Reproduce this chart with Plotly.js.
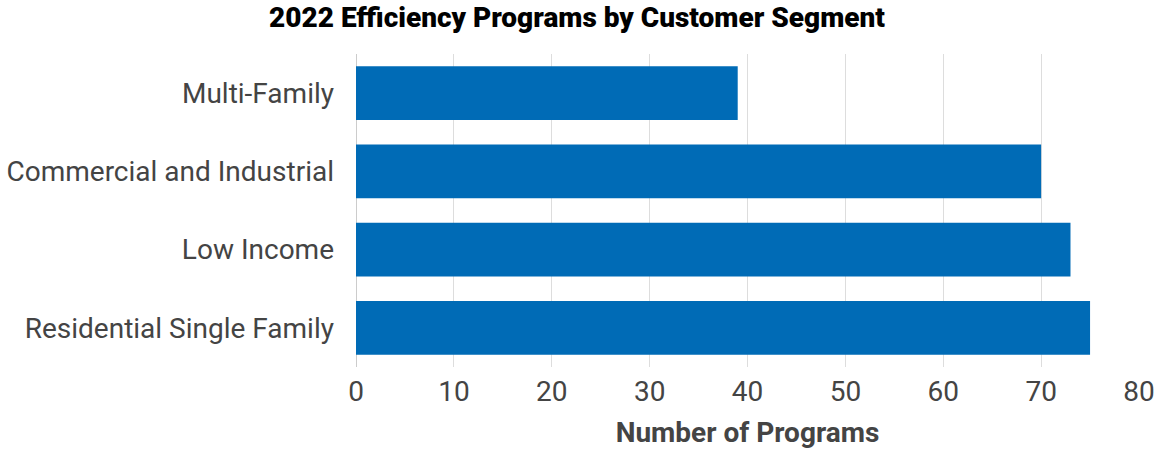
<!DOCTYPE html>
<html>
<head>
<meta charset="utf-8">
<script src="https://cdn.plot.ly/plotly-3.0.1.min.js"></script>
<style>html,body{margin:0;padding:0;background:#fff}#chart{width:1154px;height:450px}</style>
</head>
<body>
<div id="chart"></div>
<script>
const categories = ["Residential Single Family", "Low Income", "Commercial and Industrial", "Multi-Family"];
const programs = [75, 73, 70, 39];
const xTicks = [0, 10, 20, 30, 40, 50, 60, 70, 80];

const trace = {
  type: "bar",
  orientation: "h",
  y: categories,
  x: programs,
  marker: {color: "#006BB6"},
  hoverinfo: "x+y"
};

const layout = {
  width: 1154,
  height: 450,
  margin: {l: 356, r: 15, t: 54, b: 83},
  paper_bgcolor: "#fff",
  plot_bgcolor: "#fff",
  font: {family: "Roboto, sans-serif", color: "#444"},
  title: {
    text: "2022 Efficiency Programs by Customer Segment",
    font: {family: "Roboto, sans-serif", size: 28, color: "#000", weight: 900},
    x: 0.5, xanchor: "center", y: 0.962, yanchor: "middle"
  },
  bargap: 0.31,
  xaxis: {
    range: [0, 80],
    tickvals: xTicks,
    ticktext: xTicks.map(String),
    tickfont: {size: 28, color: "#444"},
    ticklabelstandoff: 5,
    ticklabeloverflow: "allow",
    showgrid: true,
    gridcolor: "#ddd",
    gridwidth: 1,
    zeroline: true,
    zerolinecolor: "#ccc",
    showline: false,
    ticks: "",
    title: {text: "Number of Programs", font: {size: 28, color: "#444", weight: 700}, standoff: 15}
  },
  yaxis: {
    tickfont: {size: 28, color: "#444"},
    ticklabelstandoff: 21,
    showgrid: false,
    ticks: "",
    ticklen: 0,
    automargin: false
  },
  showlegend: false
};

Plotly.newPlot("chart", [trace], layout, {displayModeBar: false, staticPlot: true});
</script>
</body>
</html>
